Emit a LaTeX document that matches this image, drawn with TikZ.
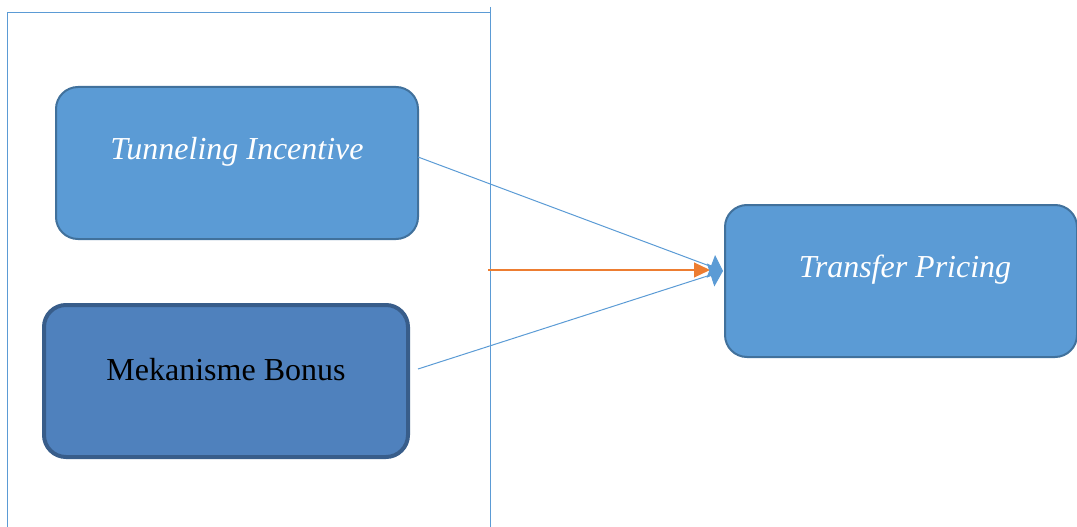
\documentclass[tikz,border=0pt]{standalone}
\usepackage{fontspec}
\setmainfont{Liberation Serif}
\usetikzlibrary{arrows.meta}
\definecolor{lblue}{HTML}{5B9BD5}
\definecolor{lbord}{HTML}{41719C}
\definecolor{dblue}{HTML}{4F81BD}
\definecolor{dbord}{HTML}{385D8A}
\definecolor{orng}{HTML}{ED7D31}
\tikzset{
  boxA/.style={draw=lbord, line width=2pt, fill=lblue, rounded corners=22pt, inner sep=0pt},
  boxB/.style={draw=dbord, line width=4pt, fill=dblue, rounded corners=22pt, inner sep=0pt},
  lab/.style={font=\fontsize{32}{38}\selectfont, inner sep=0pt},
  frameline/.style={draw=lblue, line width=1pt},
  conn/.style={draw=lblue, line width=1pt, -{Triangle[length=13pt,width=24pt]}},
  oconn/.style={draw=orng, line width=1.2pt, -{Triangle[length=16pt,width=15pt]}}
}
\begin{document}
\begin{tikzpicture}[x=1pt,y=-1pt]
\useasboundingbox (0,0) rectangle (1077,527);
% frame
\coordinate (fbl) at (7,527);
\coordinate (ftl) at (7,13);
\coordinate (ftr) at (490,13);
\coordinate (frt) at (490,7);
\coordinate (frb) at (490,527);
\draw[frameline] (fbl) -- (ftl) -- (ftr);
\draw[frameline] (frt) -- (frb);
% boxes
\node[boxA, minimum width=362pt, minimum height=152pt] (ti) at (237,163) {};
\node[boxB, minimum width=364pt, minimum height=152pt] (mb) at (226,381) {};
\node[boxA, minimum width=352pt, minimum height=152pt] (tp) at (901,281) {};
% texts
\node[lab, text=white, font=\fontsize{32}{38}\selectfont\itshape] (tit) at (237,152) {Tunneling Incentive};
\node[lab, text=black] (mbt) at (226,370) {Mekanisme Bonus};
\node[lab, text=white, font=\fontsize{32}{38}\selectfont\itshape] (tpt) at (905,270) {Transfer Pricing};
% connectors
\coordinate (s1) at (418,157);
\coordinate (s2) at (418,369);
\coordinate (tg) at (723,271);
\coordinate (os) at (488,270);
\coordinate (ot) at (710,270);
\draw[oconn] (os) -- (ot);
\draw[conn] (s1) -- (tg);
\draw[conn] (s2) -- (tg);
\end{tikzpicture}
\end{document}
